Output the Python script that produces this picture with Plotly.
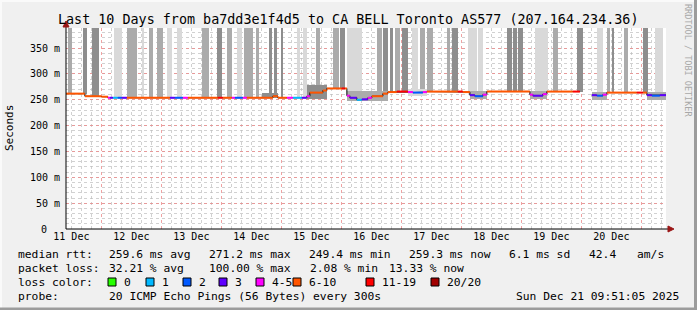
import pandas as pd
import plotly.graph_objects as go

# ---------------- data ----------------
T0 = pd.Timestamp("2025-12-11 00:00:00")      # hours below are counted from here
t_start = pd.Timestamp("2025-12-11 09:51:05")
t_end = pd.Timestamp("2025-12-21 09:51:05")
y_top = 389

# median rtt segments (hours since T0, ms, loss class)
seg_start = [9.85, 17.4, 24.0, 26.6, 27.4, 28.6, 30.6, 32.2, 34.2, 51.4,
             53.4, 56.6, 58.6, 70.6, 72.6, 76.2, 77.4, 80.6, 82.2, 92.6,
             94.6, 98.2, 100.6, 104.2, 106.2, 107.4, 112.6, 114.2, 120.2, 121.4,
             122.2, 123.4, 126.2, 128.2, 130.6, 132.2, 136.6, 138.6, 142.2, 146.6,
             148.6, 152.6, 154.2, 166.6, 168.6, 171.4, 173.4, 176.6, 178.2, 195.4,
             196.6, 200.6, 202.2, 212.6, 220.2, 222.2, 224.6, 226.2, 238.2, 240.6,
             242.2, 244.2, 247.4]
seg_end = [17.4, 24.0, 26.6, 27.4, 28.6, 30.6, 32.2, 34.2, 51.4, 53.4,
           56.6, 58.6, 70.6, 72.6, 76.2, 77.4, 80.6, 82.2, 92.6, 94.6,
           98.2, 100.6, 104.2, 106.2, 107.4, 112.6, 114.2, 120.2, 121.4, 122.2,
           123.4, 126.2, 128.2, 130.6, 132.2, 136.6, 138.6, 142.2, 146.6, 148.6,
           152.6, 154.2, 166.6, 168.6, 171.4, 173.4, 176.6, 178.2, 195.4, 196.6,
           200.6, 202.2, 212.6, 215.4, 222.2, 224.6, 226.2, 238.2, 240.6, 242.2,
           244.2, 247.4, 249.85]
seg_rtt = [262, 257, 256, 254, 254, 254, 254, 254, 254, 254,
           254, 254, 254, 254, 254, 254, 254, 254, 254, 257,
           254, 254, 254, 254, 257, 264, 268, 272, 272, 272,
           258, 254, 250, 251, 254, 257, 262, 265, 266, 265,
           264, 265, 266, 266, 265, 259, 257, 260, 266, 260,
           258, 261, 266, 266, 259, 258, 260, 264, 264, 264,
           259, 258, 259]
seg_loss = ["6-10", "6-10", "6-10", "4-5", "3", "1", "2", "3", "6-10", "3",
            "2", "4-5", "6-10", "11-19", "6-10", "4-5", "2", "4-5", "6-10", "6-10",
            "6-10", "4-5", "1", "3", "4-5", "6-10", "6-10", "6-10", "11-19", "6-10",
            "4-5", "3", "1", "3", "4-5", "6-10", "6-10", "6-10", "11-19", "4-5",
            "2", "4-5", "6-10", "11-19", "6-10", "3", "2", "4-5", "6-10", "4-5",
            "3", "4-5", "6-10", "11-19", "3", "2", "4-5", "6-10", "11-19", "6-10",
            "3", "2", "3"]

# tall smoke spikes (max rtt beyond the axis), density L/M/D
spike_start = [10.6, 16.6, 20.2, 29.0, 34.2, 40.2, 43.0, 46.2, 50.2, 54.2,
               64.2, 70.2, 74.2, 78.2, 81.0, 85.8, 91.0, 93.0, 96.2, 102.2,
               104.6, 110.0, 116.6, 119.4, 122.2, 123.4, 134.2, 136.6, 139.4, 141.4,
               144.2, 148.2, 151.4, 154.2, 162.2, 164.2, 170.6, 174.6, 186.2, 188.6,
               190.6, 197.4, 204.6, 214.2, 222.2, 226.2, 228.2, 233.0, 240.6, 245.4]
spike_end = [12.2, 18.2, 23.0, 32.2, 38.2, 41.0, 44.6, 48.6, 52.2, 56.2,
             67.0, 72.2, 76.2, 80.2, 84.6, 87.0, 92.2, 94.2, 96.6, 103.4,
             106.2, 111.6, 119.0, 121.4, 123.4, 128.2, 136.2, 138.6, 140.6, 143.4,
             146.6, 150.6, 153.4, 156.6, 163.4, 166.6, 174.2, 176.6, 188.2, 190.2,
             192.6, 202.6, 206.6, 216.6, 224.6, 227.4, 229.0, 234.6, 242.6, 248.6]
spike_shade = ["M", "D", "D", "L", "M", "L", "M", "M", "L", "L",
               "M", "D", "M", "L", "M", "M", "D", "D", "D", "L",
               "L", "M", "M", "D", "L", "L", "M", "D", "D", "M",
               "D", "L", "M", "M", "M", "D", "L", "L", "D", "D",
               "D", "L", "M", "D", "L", "M", "D", "M", "D", "L"]
spike_max = 400

# smoke close to the median
smoke_start = [88.1, 106.2, 122.2, 146.6, 171.4, 195.4, 220.2, 242.2]
smoke_end = [94.8, 114.2, 138.6, 154.2, 178.2, 202.2, 226.2, 249.85]
smoke_lo = [254, 251, 247, 258, 252, 252, 250, 250]
smoke_hi = [264, 278, 268, 270, 267, 267, 266, 266]
smoke_shade = ["D", "D", "M", "L", "M", "M", "M", "M"]

loss_classes = ["0", "1", "2", "3", "4-5", "6-10", "11-19", "20/20"]
y_ticks = [0, 50, 100, 150, 200, 250, 300, 350]

rtt_avg, rtt_max, rtt_min, rtt_now, rtt_sd, am_s = 259.6, 271.2, 249.4, 259.3, 6.1, 42.4
loss_avg, loss_max, loss_min, loss_now = 32.21, 100.00, 2.08, 13.33
probe_text = "20 ICMP Echo Pings (56 Bytes) every 300s"
stamp_text = "Sun Dec 21 09:51:05 2025"
title_text = "Last 10 Days from ba7dd3e1f4d5 to CA BELL Toronto AS577 (207.164.234.36)"

# ---------------- styling ----------------
loss_colors = {"0": "#26ff00", "1": "#00b8ff", "2": "#0059ff", "3": "#5e00ff",
               "4-5": "#ff00fe", "6-10": "#ff5500", "11-19": "#ff0000", "20/20": "#a10000"}
shade_colors = {"L": "#d9d9d9", "M": "#ababab", "D": "#8e8e8e"}
MONO = "DejaVu Sans Mono"
W, H = 697, 310
PL, PR, PT, PB = 66, 666, 28, 229


def px(x):
    return (x - PL) / (PR - PL)


def py(y):
    return (PB - y) / (PB - PT)


def to_t(h):
    return T0 + pd.to_timedelta(h, unit="h")


def median_at(h):
    best, dist = seg_rtt[0], 1e9
    for s, e, r in zip(seg_start, seg_end, seg_rtt):
        if s <= h <= e:
            return r
        d = min(abs(h - s), abs(h - e))
        if d < dist:
            best, dist = r, d
    return best


fig = go.Figure()

# spikes
for sh in ["L", "M", "D"]:
    idx = [i for i, v in enumerate(spike_shade) if v == sh]
    xs = [to_t((spike_start[i] + spike_end[i]) / 2) for i in idx]
    ws = [(spike_end[i] - spike_start[i]) * 3600 * 1000 for i in idx]
    bs = [median_at((spike_start[i] + spike_end[i]) / 2) for i in idx]
    ys = [spike_max - b for b in bs]
    fig.add_trace(go.Bar(x=xs, y=ys, base=bs, width=ws, marker_color=shade_colors[sh],
                         marker_line_width=0, hoverinfo="skip", showlegend=False))

# near smoke
for sh in ["L", "M", "D"]:
    idx = [i for i, v in enumerate(smoke_shade) if v == sh]
    if not idx:
        continue
    xs = [to_t((smoke_start[i] + smoke_end[i]) / 2) for i in idx]
    ws = [(smoke_end[i] - smoke_start[i]) * 3600 * 1000 for i in idx]
    bs = [smoke_lo[i] for i in idx]
    ys = [smoke_hi[i] - smoke_lo[i] for i in idx]
    fig.add_trace(go.Bar(x=xs, y=ys, base=bs, width=ws, marker_color=shade_colors[sh],
                         marker_line_width=0, hoverinfo="skip", showlegend=False))

# black connector line
cx, cy = [], []
for i, (s, e, r) in enumerate(zip(seg_start, seg_end, seg_rtt)):
    if i > 0 and abs(seg_end[i - 1] - s) > 0.01:
        cx.append(None)
        cy.append(None)
    cx += [to_t(s), to_t(e)]
    cy += [r, r]
fig.add_trace(go.Scatter(x=cx, y=cy, mode="lines", line=dict(color="#000000", width=1),
                         hoverinfo="skip", showlegend=False))

# coloured median segments
for cls in loss_classes:
    lx, ly = [], []
    for s, e, r, c in zip(seg_start, seg_end, seg_rtt, seg_loss):
        if c == cls:
            lx += [to_t(s), to_t(e), None]
            ly += [r, r, None]
    if lx:
        fig.add_trace(go.Scatter(x=lx, y=ly, mode="lines",
                                 line=dict(color=loss_colors[cls], width=2),
                                 hoverinfo="skip", showlegend=False))

fig.update_layout(
    width=W, height=H,
    margin=dict(l=PL, r=W - PR, t=PT, b=H - PB),
    paper_bgcolor="#f0f0f0", plot_bgcolor="#ffffff",
    barmode="overlay", bargap=0,
    showlegend=False,
    font=dict(family=MONO, color="#000000"),
)

fig.update_xaxes(
    type="date", range=[t_start, t_end],
    tickformat="%d %b", ticklabelmode="period", dtick=86400000, tick0="2025-12-11",
    tickfont=dict(family=MONO, size=10, color="#000000"),
    showgrid=True, gridcolor="rgba(235,140,140,0.8)", griddash="dot", gridwidth=1,
    minor=dict(dtick=14400000, tick0="2025-12-11", showgrid=True,
               gridcolor="rgba(190,190,190,0.7)", griddash="dot", gridwidth=1),
    showline=False, zeroline=False, ticks="",
)
fig.update_yaxes(
    range=[0, y_top],
    tickvals=y_ticks[1:],
    ticktext=["%d m" % v for v in y_ticks[1:]],
    tickfont=dict(family=MONO, size=10, color="#000000"),
    showgrid=True, gridcolor="rgba(235,140,140,0.8)", griddash="dot", gridwidth=1,
    minor=dict(dtick=10, showgrid=True, gridcolor="rgba(190,190,190,0.7)",
               griddash="dot", gridwidth=1),
    showline=False, zeroline=False, ticks="", ticklabelstandoff=5,
)

shapes = []
# frame
shapes.append(dict(type="rect", xref="paper", yref="paper", x0=px(0), x1=px(W), y0=py(0), y1=py(2),
                   fillcolor="#fafafa", line_width=0, layer="below"))
shapes.append(dict(type="rect", xref="paper", yref="paper", x0=px(0), x1=px(2), y0=py(0), y1=py(H),
                   fillcolor="#fafafa", line_width=0, layer="below"))
shapes.append(dict(type="rect", xref="paper", yref="paper", x0=px(694), x1=px(W), y0=py(0), y1=py(H),
                   fillcolor="#9c9c9c", line_width=0, layer="below"))
shapes.append(dict(type="rect", xref="paper", yref="paper", x0=px(0), x1=px(W), y0=py(307.5), y1=py(H),
                   fillcolor="#9c9c9c", line_width=0, layer="below"))
# axes with arrows
shapes.append(dict(type="line", xref="paper", yref="paper", x0=px(66), x1=px(669), y0=py(229), y1=py(229),
                   line=dict(color="#000000", width=1)))
shapes.append(dict(type="line", xref="paper", yref="paper", x0=px(66), x1=px(66), y0=py(229), y1=py(25),
                   line=dict(color="#000000", width=1)))
shapes.append(dict(type="path", xref="paper", yref="paper",
                   path="M %f,%f L %f,%f L %f,%f Z" % (px(668), py(226), px(674), py(229), px(668), py(232)),
                   fillcolor="#9b1616", line=dict(color="#9b1616", width=1)))
shapes.append(dict(type="path", xref="paper", yref="paper",
                   path="M %f,%f L %f,%f L %f,%f Z" % (px(63), py(27), px(66), py(21), px(69), py(27)),
                   fillcolor="#9b1616", line=dict(color="#9b1616", width=1)))

ann = []


def text(x, y, s, size=11.3, anchor="left", color="#000000"):
    ann.append(dict(x=px(x), y=py(y), xref="paper", yref="paper", text=s, showarrow=False,
                    xanchor=anchor, yanchor="middle", font=dict(family=MONO, size=size, color=color)))


# zero label of the y axis (digit column aligned with the other labels)
ann.append(dict(x=0, y=y_ticks[0], xref="paper", yref="y", text=str(y_ticks[0]), showarrow=False,
                xanchor="right", yanchor="middle", xshift=-17,
                font=dict(family=MONO, size=10, color="#000000")))

# title and side labels
text(348, 19, title_text, size=13.4, anchor="center")
ann.append(dict(x=px(10), y=py(128), xref="paper", yref="paper", text="Seconds", showarrow=False,
                textangle=-90, xanchor="center", yanchor="middle", font=dict(family=MONO, size=11)))
ann.append(dict(x=px(688), y=py(60), xref="paper", yref="paper", text="RRDTOOL / TOBI OETIKER",
                showarrow=False, textangle=90, xanchor="center", yanchor="middle",
                font=dict(family=MONO, size=8.5, color="#a8a8a8")))

# legend lines
text(16, 254, "median rtt:")
text(107, 254, "%.1f ms avg" % rtt_avg)
text(207, 254, "%.1f ms max" % rtt_max)
text(307, 254, "%.1f ms min" % rtt_min)
text(407, 254, "%.1f ms now" % rtt_now)
text(507, 254, "%.1f ms sd" % rtt_sd)
text(587, 254, "%.1f" % am_s)
text(635, 254, "am/s")

text(16, 268, "packet loss:")
text(107, 268, "%.2f %% avg" % loss_avg)
text(207, 268, "%.2f %% max" % loss_max)
text(308, 268, "%.2f %% min" % loss_min)
text(387, 268, "%.2f %% now" % loss_now)

text(16, 282, "loss color:")
box_x = [108, 146, 183, 219, 256, 293, 366, 431]
for bx, cls in zip(box_x, loss_classes):
    shapes.append(dict(type="rect", xref="paper", yref="paper", x0=px(bx), x1=px(bx + 8),
                       y0=py(286), y1=py(278), fillcolor=loss_colors[cls],
                       line=dict(color="#000000", width=1)))
    text(bx + 14, 282, cls)

text(16, 296, "probe:")
text(107, 296, probe_text)
text(681, 296, stamp_text, anchor="right")

fig.update_layout(shapes=shapes, annotations=ann)
fig.write_html("out.html")
